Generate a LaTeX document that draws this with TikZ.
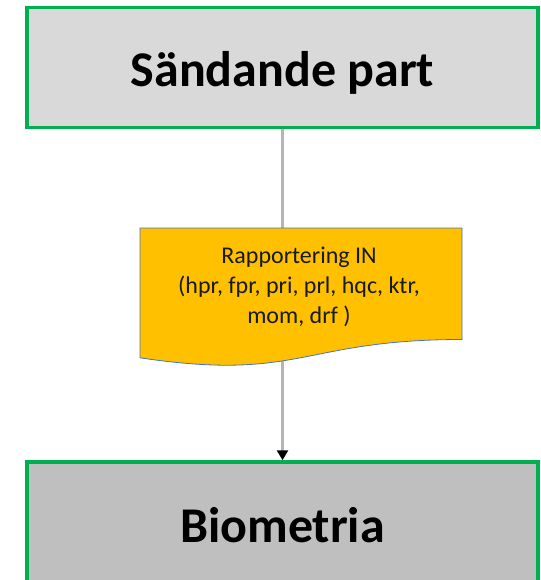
\documentclass[tikz,border=0pt]{standalone}
\usepackage{fontspec}
\setmainfont{Carlito}
\usetikzlibrary{arrows.meta}
\definecolor{boxgreen}{HTML}{00B050}
\definecolor{lightgrey}{HTML}{D9D9D9}
\definecolor{midgrey}{HTML}{BFBFBF}
\definecolor{docfill}{HTML}{FFC000}
\definecolor{docedge}{HTML}{4472C4}
\definecolor{linegrey}{HTML}{B5B5B5}
\tikzset{
  partbox/.style={draw=boxgreen, line width=3.5pt, minimum width=511pt, minimum height=120pt,
    font=\fontsize{50}{54}\selectfont\bfseries, inner sep=0pt, text height=46pt, text depth=8pt},
  docshape/.style={fill=docfill, draw=docedge, line width=0.8pt},
  doctext/.style={align=center, font=\fontsize{24}{30}\selectfont, inner sep=0pt, text=black!90},
  flow/.style={draw=linegrey, line width=2.6pt, -{Triangle[length=10pt,width=11pt,color=black]}}
}
\begin{document}
\begin{tikzpicture}[x=1pt,y=-1pt]
\useasboundingbox (0,0) rectangle (540,580);
\clip (0,0) rectangle (540,580);
\node[partbox, fill=lightgrey] (src) at (282.5,67.5) {Sändande part};
\node[partbox, fill=midgrey, minimum height=122pt] (dst) at (282.5,523) {Biometria};
\draw[flow] (src.south) -- (dst.north);
\coordinate (d1) at (140,228);
\coordinate (d2) at (462,228);
\coordinate (d3) at (462,339.5);
\coordinate (d4) at (140,357.8);
\coordinate (c1) at (301,339.5);
\coordinate (c2) at (301,381.9);
\draw[docshape] (d1) -- (d2) -- (d3) .. controls (c1) and (c2) .. (d4) -- cycle;
\node[doctext] (doc) at (299,287) {Rapportering IN\\(hpr, fpr, pri, prl, hqc, ktr,\\mom, drf )};
\end{tikzpicture}
\end{document}
